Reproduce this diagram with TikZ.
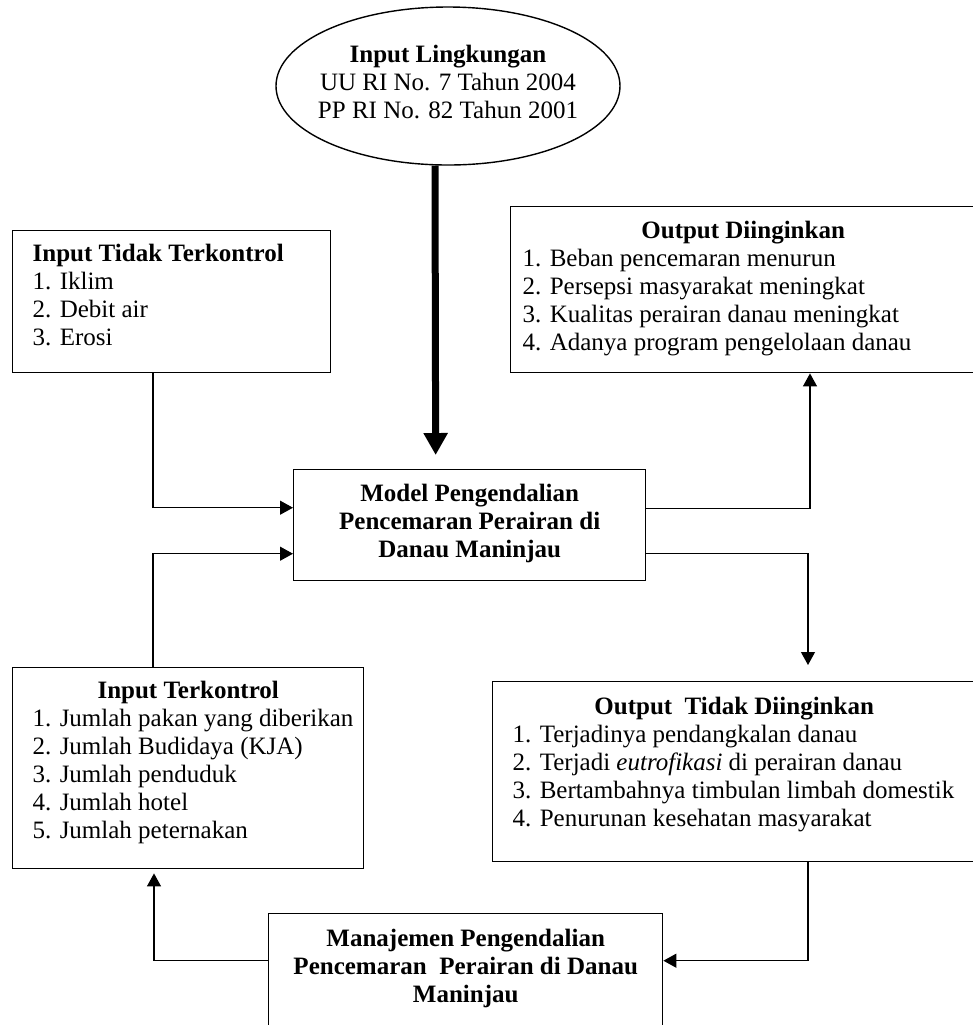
\documentclass[tikz,border=0pt]{standalone}
\usepackage{fontspec}
\setmainfont{Liberation Serif}
\usetikzlibrary{positioning,shapes.geometric,arrows.meta}

\newcommand{\panel}[3]{\parbox[c][#2][t]{#1}{#3}}
\newcommand{\row}[1]{\par\mbox{#1}}

\begin{document}
\begin{tikzpicture}[x=0.5pt,y=-0.5pt,
    font=\fontsize{12.5}{14}\selectfont,
    box/.style={draw,line width=0.7pt,inner sep=0pt,anchor=north west},
    flow/.style={line width=0.6pt,-{Triangle[length=6.5pt,width=7pt]}},
    bigflow/.style={line width=3.5pt,-{Triangle[length=11pt,width=11.5pt]}}]
        % \draw[help lines] (0,0) grid (973,1025);
      \useasboundingbox (0,0) rectangle (973,1025);

      \node[draw,ellipse,line width=0.7pt,minimum width=172pt,minimum height=79pt,inner xsep=-5pt,inner ysep=0pt,align=center]
            (lingkungan) at (448,86) {\textbf{Input Lingkungan}\\UU RI No. 7 Tahun 2004\\PP RI No. 82 Tahun 2001\rule[-4pt]{0pt}{0pt}};

      \node[box] (in_tidak)   at (12,230)  {\panel{159pt}{71pt}{\leftskip=10pt
            \rule{0pt}{15.5pt}\textbf{Input Tidak Terkontrol}\row{1. Iklim}\row{2. Debit air}\row{3. Erosi}}};
      \node[box] (in_kontrol) at (12,667)  {\panel{175.5pt}{100.5pt}{{\centering\rule{0pt}{15.5pt}\textbf{Input Terkontrol}\par}\leftskip=10pt
            \row{1. Jumlah pakan yang diberikan}\row{2. Jumlah Budidaya (KJA)}\row{3. Jumlah penduduk}\row{4. Jumlah hotel}\row{5. Jumlah peternakan}}};
      \node[box] (model)      at (293,469) {\panel{176pt}{55.5pt}{\centering\bfseries\rule{0pt}{16pt}Model Pengendalian\\Pencemaran Perairan di\\Danau Maninjau}};
      \node[box] (out_ingin)  at (510,206) {\panel{232.5pt}{83pt}{{\centering\rule{0pt}{16pt}\textbf{Output Diinginkan}\par}\leftskip=6pt
            \row{1. Beban pencemaran menurun}\row{2. Persepsi masyarakat meningkat}\row{3. Kualitas perairan danau meningkat}\row{4. Adanya program pengelolaan danau}}};
      \node[box] (out_tidak)  at (492,681) {\panel{241.5pt}{90pt}{{\centering\rule{0pt}{16.5pt}\textbf{Output~ Tidak Diinginkan}\par}\leftskip=10pt
            \row{1. Terjadinya pendangkalan danau}\row{2. Terjadi \textit{eutrofikasi} di perairan danau}\row{3. Bertambahnya timbulan limbah domestik}\row{4. Penurunan kesehatan masyarakat}}};
      \node[box] (manajemen)  at (268,913) {\panel{197pt}{61pt}{\centering\bfseries\rule{0pt}{16.5pt}Manajemen Pengendalian\\Pencemaran~ Perairan di Danau\\Maninjau}};

      \draw[bigflow,shorten >=7pt] ([xshift=-6.5pt]lingkungan.south) -- ([xshift=-17pt]model.north);
      \draw[flow] ([xshift=70.5pt]in_tidak.south west) |- ([yshift=8.75pt]model.west);
      \draw[flow] ([xshift=70.5pt]in_kontrol.north west) |- ([yshift=-14.25pt]model.west);
      \draw[flow] ([yshift=8.25pt]model.east) -| ([xshift=150pt]out_ingin.south west);
      \draw[flow,shorten >=8pt] ([yshift=-14.25pt]model.east) -| ([xshift=158pt]out_tidak.north west);
      \draw[flow] ([xshift=158pt]out_tidak.south west) |- ([yshift=7pt]manajemen.east);
      \draw[flow,shorten >=2pt] ([yshift=7pt]manajemen.west) -| ([xshift=71pt]in_kontrol.south west);
    \end{tikzpicture}
\end{document}
